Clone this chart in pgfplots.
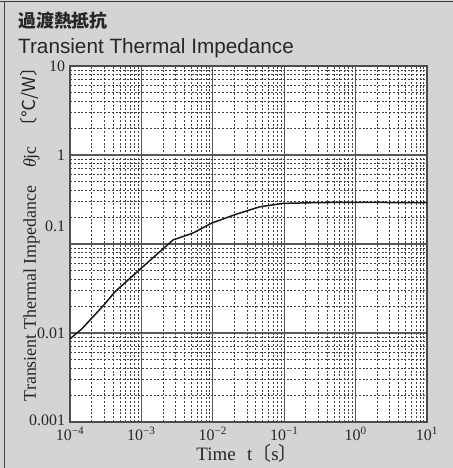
\documentclass[border=0pt]{standalone}
\usepackage{fontspec}
\setmainfont{Liberation Serif}
\newfontfamily\cjk{Noto Sans CJK JP}
\newfontfamily\sans{Liberation Sans}
\usepackage{pgfplots}
\pgfplotsset{compat=1.18}
\definecolor{bggray}{RGB}{212,212,213}
\begin{document}
\begin{tikzpicture}
\path[use as bounding box, fill=bggray] (0,0) rectangle (453bp,468bp);
\draw[black!75, line width=1.2bp] (0,466.5bp) -- (453bp,466.5bp);
\draw[black!75, line width=1.2bp] (4.5bp,0) -- (4.5bp,467bp);
\node[anchor=base west, inner sep=0pt, font=\cjk\bfseries\fontsize{18}{18}\selectfont, text=black!85] at (18bp,440bp) {過渡熱抵抗};
\node[anchor=base west, inner sep=0pt, font=\sans\fontsize{20.8}{20.8}\selectfont, text=black!85] at (18bp,414bp) {Transient Thermal Impedance};
\begin{axis}[
  at={(70bp,46bp)}, anchor=south west,
  width=357bp, height=356bp, scale only axis,
  xmode=log, ymode=log,
  xmin=1e-4, xmax=10, ymin=1e-3, ymax=10,
  axis background/.style={fill=white},
  grid=both,
  major grid style={draw=black!65, line width=1.1bp, solid},
  minor grid style={draw=black!75, line width=0.6bp, dash pattern=on 2bp off 1.8bp},
  axis line style={draw=black!70, line width=1.2bp},
  major tick length=0pt, minor tick length=0pt,
  tick style={draw=none},
  xtick={1e-4,1e-3,1e-2,1e-1,1,10},
  xticklabels={10\textsuperscript{−4},10\textsuperscript{−3},10\textsuperscript{−2},10\textsuperscript{−1},10\textsuperscript{0},10\textsuperscript{1}},
  minor xtick={2e-4,3e-4,4e-4,5e-4,6e-4,7e-4,8e-4,9e-4,
               2e-3,3e-3,4e-3,5e-3,6e-3,7e-3,8e-3,9e-3,
               2e-2,3e-2,4e-2,5e-2,6e-2,7e-2,8e-2,9e-2,
               2e-1,3e-1,4e-1,5e-1,6e-1,7e-1,8e-1,9e-1,
               2,3,4,5,6,7,8,9},
  ytick={1e-3,1e-2,1e-1,1,10},
  yticklabels={\raisebox{3bp}{0.001},0.01,\raisebox{36bp}{0.1},1,10},
  minor ytick={2e-3,3e-3,4e-3,5e-3,6e-3,7e-3,8e-3,9e-3,
               2e-2,3e-2,4e-2,5e-2,6e-2,7e-2,8e-2,9e-2,
               2e-1,3e-1,4e-1,5e-1,6e-1,7e-1,8e-1,9e-1,
               2,3,4,5,6,7,8,9},
  tick label style={font=\fontsize{16}{16}\selectfont, text=black!85},
  xticklabel style={yshift=-1.5bp},
  yticklabel style={xshift=-1.5bp},
]
\addplot[black!90, line width=1.5bp] coordinates {
  (1e-4, 0.0086)
  (1.46e-4, 0.0111)
  (2.9e-4, 0.0201)
  (4.27e-4, 0.0291)
  (1.0e-3, 0.0537)
  (2.77e-3, 0.111)
  (5.3e-3, 0.133)
  (9.7e-3, 0.172)
  (0.0216, 0.217)
  (0.0458, 0.262)
  (0.096, 0.286)
  (0.3, 0.292)
  (0.92, 0.294)
  (10, 0.291)
};
\end{axis}
\node[anchor=base, inner sep=0pt, font=\fontsize{19}{19}\selectfont, text=black!85] at (247bp,8bp) {Time\hspace{0.6em}t{\cjk 〔}s{\cjk 〕}};
\node[anchor=center, rotate=90, inner sep=0pt, font=\fontsize{18}{18}\selectfont, text=black!85] at (30bp,238bp) {Transient Thermal Impedance\hspace{1em}\textit{θ}jc\hspace{0.6em}{\cjk 〔℃/W〕}};
\end{tikzpicture}
\end{document}
